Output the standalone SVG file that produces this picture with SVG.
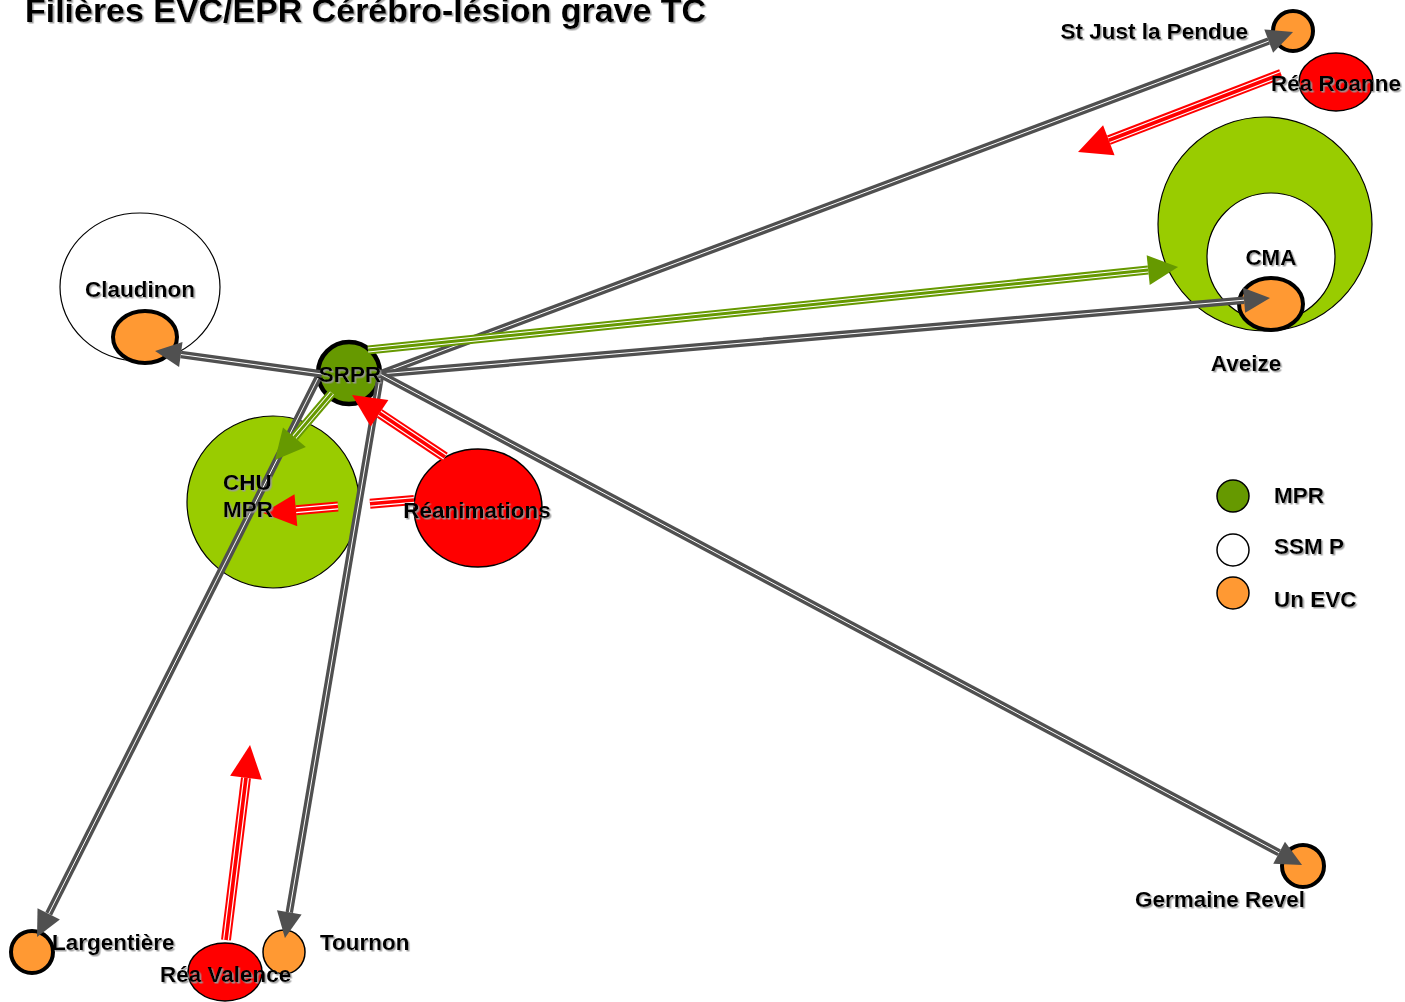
<svg xmlns="http://www.w3.org/2000/svg" width="1405" height="1002" viewBox="0 0 1405 1002">
  <defs>
    <filter id="shadow" x="-10%" y="-20%" width="130%" height="150%">
      <feDropShadow dx="1.5" dy="1.5" stdDeviation="0.4" flood-color="#9a9a9a" flood-opacity="0.9"/>
    </filter>
    <marker id="head-gray" markerUnits="userSpaceOnUse" orient="auto" refX="0" refY="0" markerWidth="40" markerHeight="40" overflow="visible">
      <path d="M0,-12.5 L26,0 L0,12.5 z" fill="#505050"/>
    </marker>
    <marker id="head-red" markerUnits="userSpaceOnUse" orient="auto" refX="0" refY="0" markerWidth="40" markerHeight="40" overflow="visible">
      <path d="M0,-16 L33,0 L0,16 z" fill="#ff0000"/>
    </marker>
    <marker id="head-green" markerUnits="userSpaceOnUse" orient="auto" refX="0" refY="0" markerWidth="40" markerHeight="40" overflow="visible">
      <path d="M0,-15 L30,0 L0,15 z" fill="#669900"/>
    </marker>
  </defs>
  <style>
    text { font-family: "Liberation Sans", Arial, sans-serif; font-weight: bold; fill: #000; filter: url(#shadow); }
    .lbl { font-size: 22.5px; }
    .title { font-size: 33px; }
    .mid { text-anchor: middle; }
    .end { text-anchor: end; }
    .evc { fill: #ff9933; stroke: #000; stroke-width: 4; }
    .evc-thin { fill: #ff9933; stroke: #000; stroke-width: 1.5; }
    .rea { fill: #ff0000; stroke: #000; stroke-width: 1.5; }
    .mpr { fill: #99cc00; stroke: #000; stroke-width: 1.2; }
    .ssm { fill: #ffffff; stroke: #000; stroke-width: 1.2; }
    .srpr { fill: #669900; stroke: #000; stroke-width: 4.5; }
    .g1 { stroke: #505050; stroke-width: 7.5; fill: none; }
    .g2 { stroke: #ffffff; stroke-width: 1; fill: none; }
    .gh { stroke: none; fill: none; marker-end: url(#head-gray); }
    .r1 { stroke: #ff0000; stroke-width: 10; fill: none; }
    .r2 { stroke: #ffffff; stroke-width: 6; fill: none; }
    .r3 { stroke: #ff0000; stroke-width: 3.6; fill: none; }
    .rh { stroke: none; fill: none; marker-end: url(#head-red); }
    .v1 { stroke: #669900; stroke-width: 9; fill: none; }
    .v2 { stroke: #ffffff; stroke-width: 5; fill: none; }
    .v3 { stroke: #669900; stroke-width: 3; fill: none; }
    .vh { stroke: none; fill: none; marker-end: url(#head-green); }
  </style>

  <rect width="1405" height="1002" fill="#ffffff"/>

  <text class="title" x="25" y="22" textLength="681" lengthAdjust="spacingAndGlyphs">Filières EVC/EPR Cérébro-lésion grave TC</text>

  <!-- Nodes -->
  <g id="node-aveize">
    <circle class="mpr" cx="1265" cy="224" r="107"/>
    <circle class="ssm" cx="1271" cy="257" r="64"/>
    <ellipse class="evc" cx="1271" cy="304" rx="32" ry="26"/>
    <text class="lbl mid" x="1271" y="265">CMA</text>
    <text class="lbl mid" x="1246" y="371">Aveize</text>
  </g>
  <g id="node-claudinon">
    <ellipse class="ssm" cx="140" cy="287" rx="80" ry="74"/>
    <ellipse class="evc" cx="145" cy="337" rx="32" ry="26"/>
    <text class="lbl mid" x="140" y="297">Claudinon</text>
  </g>
  <g id="node-chu">
    <circle class="mpr" cx="273" cy="502" r="86"/>
  </g>
  <g id="node-reanimations">
    <ellipse class="rea" cx="478" cy="508" rx="64" ry="59"/>
  </g>
  <g id="node-srpr">
    <circle class="srpr" cx="349" cy="373" r="31"/>
  </g>
  <g id="node-st-just">
    <circle class="evc" cx="1293" cy="31" r="20"/>
    <text class="lbl end" x="1248" y="39">St Just la Pendue</text>
  </g>
  <g id="node-rea-roanne">
    <ellipse class="rea" cx="1336" cy="82" rx="37" ry="29"/>
  </g>
  <g id="node-germaine-revel">
    <circle class="evc" cx="1303" cy="866" r="21"/>
    <text class="lbl" x="1135" y="907">Germaine Revel</text>
  </g>
  <g id="node-largentiere">
    <circle class="evc" cx="32" cy="952" r="21"/>
  </g>
  <g id="node-tournon">
    <ellipse class="evc-thin" cx="284" cy="952" rx="21" ry="22"/>
    <text class="lbl" x="320" y="950">Tournon</text>
  </g>
  <g id="node-rea-valence">
    <ellipse class="rea" cx="225" cy="972" rx="37" ry="29"/>
  </g>

  <!-- Connectors -->
  <g id="connectors">
    <!-- SRPR to St Just la Pendue -->
    <path class="g1" d="M380,374 L1268.7,41.1"/>
    <path class="g2" d="M380,374 L1268.7,41.1"/>
    <path class="gh" d="M380,374 L1268.7,41.1"/>
    <!-- SRPR to Aveize -->
    <path class="g1" d="M380,374 L1244.1,300.2"/>
    <path class="g2" d="M380,374 L1244.1,300.2"/>
    <path class="gh" d="M380,374 L1244.1,300.2"/>
    <!-- SRPR to Germaine Revel -->
    <path class="g1" d="M380,374 L1279.1,852.8"/>
    <path class="g2" d="M380,374 L1279.1,852.8"/>
    <path class="gh" d="M380,374 L1279.1,852.8"/>
    <!-- SRPR to Claudinon -->
    <path class="g1" d="M322,374 L180.8,354.5"/>
    <path class="g2" d="M322,374 L180.8,354.5"/>
    <path class="gh" d="M322,374 L180.8,354.5"/>
    <!-- SRPR to Largentière -->
    <path class="g1" d="M318,378 L48.7,913.8"/>
    <path class="g2" d="M318,378 L48.7,913.8"/>
    <path class="gh" d="M318,378 L48.7,913.8"/>
    <!-- SRPR to Tournon -->
    <path class="g1" d="M380,378 L289.3,912.4"/>
    <path class="g2" d="M380,378 L289.3,912.4"/>
    <path class="gh" d="M380,378 L289.3,912.4"/>
    <!-- SRPR to Aveize (MPR) -->
    <path class="v1" d="M368,350 L1148.2,270.1"/>
    <path class="v2" d="M368,350 L1148.2,270.1"/>
    <path class="v3" d="M368,350 L1148.2,270.1"/>
    <path class="vh" d="M368,350 L1148.2,270.1"/>
    <!-- SRPR to CHU MPR -->
    <path class="v1" d="M332,393 L294.4,437.2"/>
    <path class="v2" d="M332,393 L294.4,437.2"/>
    <path class="v3" d="M332,393 L294.4,437.2"/>
    <path class="vh" d="M332,393 L294.4,437.2"/>
    <!-- Réa Roanne outflow -->
    <path class="r1" d="M1281,74 L1108.8,140.2"/>
    <path class="r2" d="M1281,74 L1108.8,140.2"/>
    <path class="r3" d="M1281,74 L1108.8,140.2"/>
    <path class="rh" d="M1281,74 L1108.8,140.2"/>
    <!-- Réanimations to SRPR -->
    <path class="r1" d="M445,457 L379.5,413.3"/>
    <path class="r2" d="M445,457 L379.5,413.3"/>
    <path class="r3" d="M445,457 L379.5,413.3"/>
    <path class="rh" d="M445,457 L379.5,413.3"/>
    <!-- Réanimations to CHU MPR (broken shaft) -->
    <path class="r1" d="M414,500 L370,503.8 M338,506.5 L295.9,510.2"/>
    <path class="r2" d="M414,500 L370,503.8 M338,506.5 L295.9,510.2"/>
    <path class="r3" d="M414,500 L370,503.8 M338,506.5 L295.9,510.2"/>
    <path class="rh" d="M338,506.5 L295.9,510.2"/>
    <!-- Réa Valence outflow -->
    <path class="r1" d="M226,940 L246,777.8"/>
    <path class="r2" d="M226,940 L246,777.8"/>
    <path class="r3" d="M226,940 L246,777.8"/>
    <path class="rh" d="M226,940 L246,777.8"/>
  </g>

  <!-- Labels drawn above the connectors -->
  <g id="labels">
    <text class="lbl mid" x="350" y="382">SRPR</text>
    <text class="lbl" x="223" y="490">CHU</text>
    <text class="lbl" x="223" y="517">MPR</text>
    <text class="lbl mid" x="477" y="518">Réanimations</text>
    <text class="lbl" x="1271" y="91">Réa Roanne</text>
    <text class="lbl" x="52" y="950">Largentière</text>
    <text class="lbl" x="160" y="982">Réa Valence</text>
  </g>

  <!-- Legend -->
  <g id="legend">
    <circle class="srpr" cx="1233" cy="496" r="16" style="stroke-width:1.5"/>
    <circle class="ssm" cx="1233" cy="550" r="16" style="stroke-width:1.5"/>
    <circle class="evc-thin" cx="1233" cy="593" r="16"/>
    <text class="lbl" x="1274" y="503">MPR</text>
    <text class="lbl" x="1274" y="554">SSM P</text>
    <text class="lbl" x="1274" y="607">Un EVC</text>
  </g>
</svg>
